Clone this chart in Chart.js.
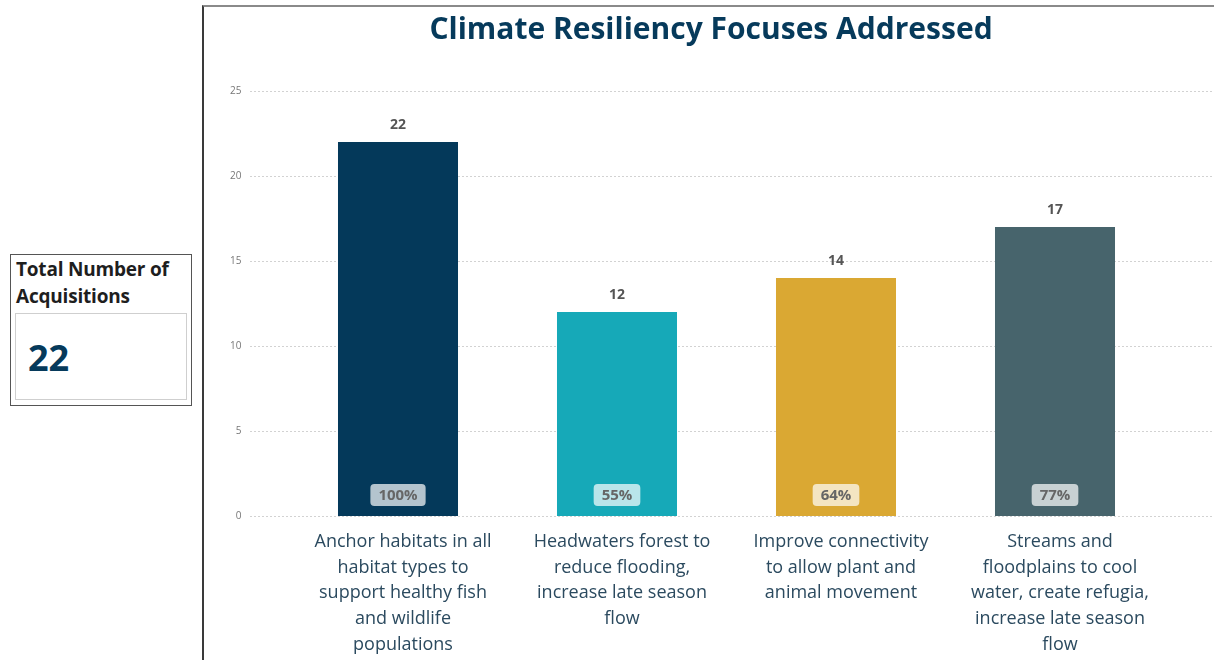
<!DOCTYPE html>
<html>
<head>
<meta charset="utf-8">
<script src="https://cdn.jsdelivr.net/npm/chart.js@4"></script>
<style>
    body { margin: 0; background: #fff; font-family: "Open Sans", sans-serif; overflow: hidden; }
    .kpi { position: absolute; left: 10px; top: 254px; width: 182px; height: 152px; border: 1px solid #555; box-sizing: border-box; }
    .kpi-title { position: absolute; left: 5px; top: 1px; font-size: 19px; font-weight: 700; line-height: 27px; color: #1e1e1e; letter-spacing: -0.2px; }
    .kpi-box { position: absolute; left: 4px; top: 58px; width: 172px; height: 87px; border: 1px solid #cfcfcf; box-sizing: border-box; }
    .kpi-value { position: absolute; left: 12px; top: 24px; font-size: 36px; font-weight: 700; line-height: 40px; color: #063a5b; }
    .frame { position: absolute; left: 202px; top: 5px; width: 1040px; height: 700px; border-left: 2px solid #3a3a3a; border-top: 2px solid #8a8a8a; }
    #chart { position: absolute; left: -1px; top: 0; }
</style>
</head>
<body>
<div class="kpi">
    <div class="kpi-title">Total Number of<br>Acquisitions</div>
    <div class="kpi-box"><div class="kpi-value" id="kpiValue"></div></div>
</div>
<div class="frame">
    <canvas id="chart" width="1016" height="660"></canvas>
</div>
<script>
const categories = [
    ["Anchor habitats in all", "habitat types to", "support healthy fish", "and wildlife", "populations"],
    ["Headwaters forest to", "reduce flooding,", "increase late season", "flow"],
    ["Improve connectivity", "to allow plant and", "animal movement"],
    ["Streams and", "floodplains to cool", "water, create refugia,", "increase late season", "flow"]
];
const acquisitions = [22, 12, 14, 17];
const totalAcquisitions = 22;
const yMax = 25;
const yStep = 5;

const barColors = ["#04395a", "#16a9b8", "#daa833", "#47646c"];

document.getElementById('kpiValue').textContent = totalAcquisitions;

// dotted horizontal grid that runs past the plot area to the right edge
const dottedGrid = {
    id: 'dottedGrid',
    beforeDatasetsDraw(chart) {
        const ctx = chart.ctx;
        const y = chart.scales.y;
        ctx.save();
        ctx.strokeStyle = '#d2d2d2';
        ctx.lineWidth = 1;
        ctx.setLineDash([2, 2]);
        y.ticks.forEach(t => {
            const py = Math.round(y.getPixelForValue(t.value)) + 0.5;
            ctx.beginPath();
            ctx.moveTo(47, py);
            ctx.lineTo(chart.width, py);
            ctx.stroke();
        });
        ctx.restore();
    }
};

// value above each bar, share of total in a badge at the bottom
const barLabels = {
    id: 'barLabels',
    afterDatasetsDraw(chart) {
        const ctx = chart.ctx;
        const meta = chart.getDatasetMeta(0);
        const bottom = chart.chartArea.bottom;
        ctx.save();
        ctx.textAlign = 'center';
        ctx.textBaseline = 'middle';
        meta.data.forEach((bar, i) => {
            const v = acquisitions[i];
            ctx.font = 'bold 14px "Open Sans"';
            ctx.fillStyle = '#555';
            ctx.fillText(v, bar.x, bar.y - 17);

            const pct = Math.round(v / totalAcquisitions * 100) + '%';
            ctx.font = 'bold 15px "Open Sans"';
            const w = ctx.measureText(pct).width + 16;
            const h = 22;
            const cy = bottom - 21;
            ctx.fillStyle = 'rgba(255,255,255,0.7)';
            ctx.beginPath();
            ctx.roundRect(bar.x - w / 2, cy - h / 2, w, h, 4);
            ctx.fill();
            ctx.fillStyle = '#666';
            ctx.fillText(pct, bar.x, cy + 1);
        });
        ctx.restore();
    }
};

new Chart(document.getElementById('chart'), {
    type: 'bar',
    data: {
        labels: categories,
        datasets: [{
            data: acquisitions,
            backgroundColor: barColors,
            categoryPercentage: 1,
            barPercentage: 0.548
        }]
    },
    options: {
        responsive: false,
        animation: false,
        layout: { padding: 0 },
        plugins: {
            legend: { display: false },
            tooltip: { enabled: false },
            title: {
                display: true,
                text: 'Climate Resiliency Focuses Addressed',
                color: '#063a5b',
                font: { family: '"Open Sans"', size: 30, weight: 'bold', lineHeight: 1.2 },
                padding: { top: 5, bottom: 43 }
            }
        },
        scales: {
            x: {
                grid: { display: false, drawTicks: false },
                border: { display: false },
                ticks: {
                    color: '#2b4a5f',
                    font: { family: '"Open Sans"', size: 18, lineHeight: 1.43 },
                    padding: 13,
                    labelOffset: 5,
                    maxRotation: 0,
                    autoSkip: false
                },
                afterFit(scale) { scale.height = 151; }
            },
            y: {
                min: 0,
                max: yMax,
                grid: { display: false, drawTicks: false },
                border: { display: false },
                ticks: {
                    stepSize: yStep,
                    color: '#777',
                    font: { family: '"Open Sans"', size: 10 },
                    padding: 47
                },
                afterFit(scale) { scale.width = 85.5; }
            },
            // empty right-hand gutter so the title stays centred on the whole frame
            gutter: {
                position: 'right',
                grid: { display: false, drawTicks: false },
                border: { display: false },
                ticks: { display: false },
                afterFit(scale) { scale.width = 54.5; }
            }
        }
    },
    plugins: [dottedGrid, barLabels]
});
</script>
</body>
</html>
